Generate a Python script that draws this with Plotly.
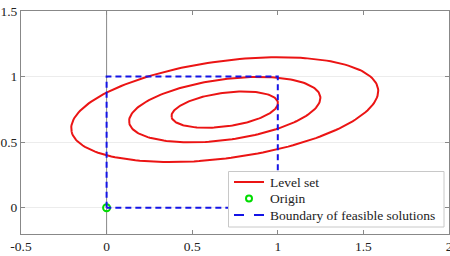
import numpy as np
import plotly.graph_objects as go

# Level-set function f(p) = (p - c)^T A (p - c)
center = [0.69, 0.748]
A11, A12, A22 = 1.0, -0.795, 5.03
levels = [0.0845, 0.273, 0.703]

# Feasible-solution boundary (unit box)
box_x = [0, 0, 1, 1, 0]
box_y = [0, 1, 1, 0, 0]

origin_x = [0]
origin_y = [0]

x_ticks = [-0.5, 0, 0.5, 1, 1.5, 2]
x_tick_text = ["-0.5", "0", "0.5", "1", "1.5", "2"]
y_ticks = [0, 0.5, 1, 1.5]
y_tick_text = ["0", "0.5", "1", "1.5"]

series_names = ["Level set", "Origin", "Boundary of feasible solutions"]

RED = "rgb(235,20,20)"
GREEN = "rgb(0,220,0)"
BLUE = "rgb(20,20,230)"

A = np.array([[A11, A12], [A12, A22]])
w, V = np.linalg.eigh(A)
t = np.linspace(0, 2 * np.pi, 181)
ex, ey = [], []
for L in levels:
    pts = V @ np.diag(np.sqrt(L / w)) @ np.vstack([np.cos(t), np.sin(t)])
    ex += list(pts[0] + center[0]) + [None]
    ey += list(pts[1] + center[1]) + [None]

FAMILY = "Liberation Serif, Times New Roman, serif"
font = dict(family=FAMILY, size=13.5, color="#222")

fig = go.Figure()
fig.add_trace(go.Scatter(x=ex, y=ey, mode="lines", name=series_names[0],
                         line=dict(color=RED, width=2), showlegend=False))
fig.add_trace(go.Scatter(x=origin_x, y=origin_y, mode="markers", name=series_names[1],
                         marker=dict(symbol="circle-open", size=7,
                                     color=GREEN, line=dict(width=2)),
                         showlegend=False))
fig.add_trace(go.Scatter(x=box_x, y=box_y, mode="lines", name=series_names[2],
                         line=dict(color=BLUE, width=2, dash="6px,4px"),
                         showlegend=False))

fig.add_vline(x=0, line=dict(color="#888", width=1), layer="below")

# ---- legend box drawn in paper space (layout only) ----
ML, MT, PW, PH = 21, 11, 428, 223


def px(x):
    return (x - ML) / PW


def py(y):
    return (MT + PH - y) / PH


fig.add_shape(type="rect", xref="paper", yref="paper",
              x0=px(228.5), x1=px(444), y0=py(227), y1=py(171.5),
              line=dict(color="#c8c8c8", width=1), fillcolor="white", layer="above")
rows = [182, 198.5, 215]
fig.add_shape(type="line", xref="paper", yref="paper",
              x0=px(234), x1=px(264), y0=py(rows[0]), y1=py(rows[0]),
              line=dict(color=RED, width=2), layer="above")
fig.add_shape(type="circle", xref="paper", yref="paper",
              xsizemode="pixel", ysizemode="pixel",
              xanchor=px(249), yanchor=py(rows[1]), x0=-3, x1=3, y0=-3, y1=3,
              line=dict(color=GREEN, width=2), layer="above")
fig.add_shape(type="line", xref="paper", yref="paper",
              x0=px(234), x1=px(264), y0=py(rows[2]), y1=py(rows[2]),
              line=dict(color=BLUE, width=2, dash="10px,10px"), layer="above")
for name, r in zip(series_names, rows):
    fig.add_annotation(xref="paper", yref="paper", x=px(268), y=py(r),
                       text=name, showarrow=False, xanchor="left",
                       yanchor="middle", font=font)

fig.update_layout(
    width=450, height=256,
    margin=dict(l=ML, r=1, t=MT, b=22, autoexpand=False),
    paper_bgcolor="white", plot_bgcolor="white",
    font=font,
    showlegend=False,
    xaxis=dict(range=[-0.5, 2], tickvals=x_ticks, ticktext=x_tick_text,
               showgrid=False, zeroline=False, showline=True, mirror="ticks",
               linecolor="#888", linewidth=1, ticks="inside", ticklen=4,
               tickcolor="#888", ticklabeloverflow="allow", automargin=False),
    yaxis=dict(range=[-0.2, 1.5], tickvals=y_ticks, ticktext=y_tick_text,
               showgrid=True, gridcolor="#ececec", zeroline=False, showline=True,
               mirror="ticks", linecolor="#888", linewidth=1, ticks="inside",
               ticklen=4, tickcolor="#888", ticklabeloverflow="allow",
               automargin=False),
)

fig.write_html("out.html")
